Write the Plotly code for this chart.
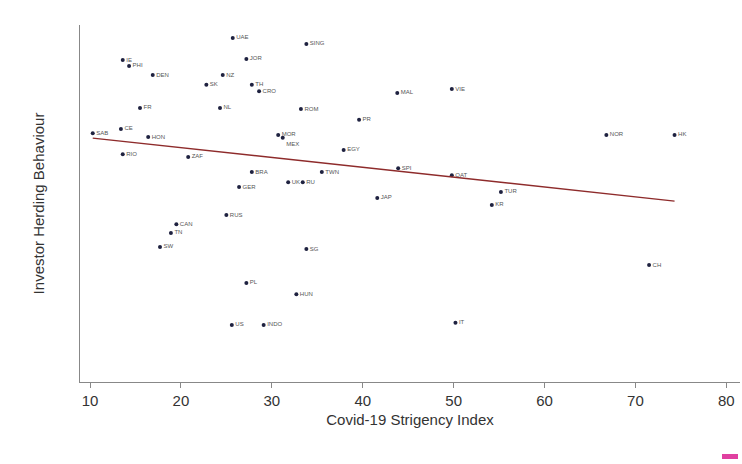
import plotly.graph_objects as go

countries = ["UAE", "SING", "JOR", "IE", "PHI", "DEN", "NZ", "SK", "TH", "CRO",
             "MAL", "VIE", "FR", "NL", "ROM", "PR", "SAB", "CE", "HON", "MOR",
             "MEX", "NOR", "HK", "RIO", "ZAF", "EGY", "BRA", "TWN", "SPI", "QAT",
             "GER", "UK", "RU", "JAP", "TUR", "KR", "RUS", "CAN", "TN", "SW",
             "SG", "CH", "PL", "HUN", "US", "INDO", "IT"]
stringency = [25.7, 33.8, 27.2, 13.6, 14.3, 16.9, 24.6, 22.8, 27.8, 28.6,
              43.8, 49.8, 15.5, 24.3, 33.2, 39.6, 10.3, 13.4, 16.4, 30.7,
              31.2, 66.8, 74.3, 13.6, 20.8, 37.9, 27.8, 35.5, 43.9, 49.8,
              26.4, 31.8, 33.4, 41.6, 55.2, 54.2, 25.0, 19.5, 18.9, 17.7,
              33.8, 71.5, 27.2, 32.7, 25.6, 29.1, 50.2]
herding = [9.83, 9.66, 9.23, 9.20, 9.03, 8.77, 8.77, 8.49, 8.49, 8.31,
           8.26, 8.37, 7.83, 7.83, 7.80, 7.49, 7.11, 7.23, 7.00, 7.06,
           6.98, 7.06, 7.06, 6.51, 6.43, 6.63, 6.00, 6.00, 6.11, 5.91,
           5.57, 5.71, 5.71, 5.26, 5.43, 5.06, 4.77, 4.51, 4.26, 3.86,
           3.80, 3.34, 2.83, 2.51, 1.63, 1.63, 1.69]
fit_x = [10.3, 74.3]
fit_y = [6.97, 5.17]
x_ticks = [10, 20, 30, 40, 50, 60, 70, 80]

text_pos = ["middle right"] * len(countries)
text_pos[countries.index("MEX")] = "bottom right"

fig = go.Figure()
fig.add_trace(go.Scatter(
    x=stringency, y=herding, mode="markers+text", text=countries,
    textposition=text_pos,
    textfont=dict(size=6, color="#555555", family="Liberation Sans"),
    marker=dict(size=4, color="#1f2240"),
    showlegend=False, hoverinfo="text"))
fig.add_trace(go.Scatter(
    x=fit_x, y=fit_y, mode="lines",
    line=dict(color="#8e2b2b", width=1.3), showlegend=False))

fig.update_layout(
    width=742, height=464,
    margin=dict(l=80, r=2, t=25, b=82),
    paper_bgcolor="white", plot_bgcolor="white",
    font=dict(family="Liberation Sans Narrow, Liberation Sans, Arial", color="#333333"),
    xaxis=dict(range=[8.9, 81.5], tickvals=x_ticks, showgrid=False, zeroline=False,
               showline=True, linecolor="#888888", linewidth=1,
               ticks="outside", ticklen=5, tickcolor="#888888", automargin=False,
               tickfont=dict(size=15, color="#333333"),
               title=dict(text="Covid-19 Strigency Index", font=dict(size=15, color="#333333"), standoff=6)),
    yaxis=dict(range=[0, 10.2], showticklabels=False, showgrid=False, zeroline=False,
               showline=True, linecolor="#888888", linewidth=1, ticks="", automargin=False,
               title=dict(text="Investor Herding Behaviour", font=dict(size=15, color="#333333"), standoff=30)),
    shapes=[dict(type="rect", xref="paper", yref="paper", x0=(722 - 80) / 660, x1=(738 - 80) / 660,
                 y0=(382 - 459) / 357, y1=(382 - 454) / 357, fillcolor="#e040a0", line=dict(width=0))],
)
fig.write_html("out.html", config={"displayModeBar": False},
               post_script="document.body.style.margin='0';")
